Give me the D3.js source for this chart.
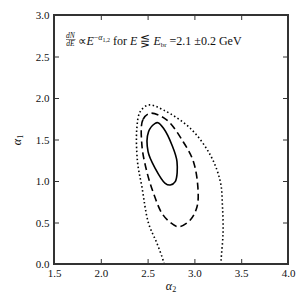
<!DOCTYPE html>
<html>
<head>
<meta charset="utf-8">
<script src="https://cdn.jsdelivr.net/npm/d3@7"></script>
<style>
  body { margin: 0; background: #fff; }
</style>
</head>
<body>
<div id="chart"></div>
<script>
// tick values
const xTicks = [1.5, 2.0, 2.5, 3.0, 3.5, 4.0];
const yTicks = [0.0, 0.5, 1.0, 1.5, 2.0, 2.5, 3.0];

// contours [alpha2, alpha1]
const oneSigma = [
  [2.581, 1.695], [2.510, 1.594], [2.505, 1.353], [2.581, 1.153],
  [2.688, 0.972], [2.742, 0.952], [2.795, 0.992], [2.814, 1.233],
  [2.760, 1.434], [2.670, 1.635], [2.610, 1.702]
];
const twoSigma = [
  [2.528, 1.816], [2.450, 1.740], [2.439, 1.434], [2.492, 1.112],
  [2.563, 0.852], [2.653, 0.611], [2.742, 0.500], [2.831, 0.449],
  [2.956, 0.530], [3.028, 0.690], [3.039, 0.892], [2.990, 1.233],
  [2.880, 1.473], [2.700, 1.740]
];
const threeSigma = [
  [2.682, -0.05], [2.670, 0.028], [2.600, 0.249], [2.510, 0.490],
  [2.439, 0.931], [2.392, 1.233], [2.385, 1.635], [2.421, 1.835],
  [2.510, 1.916], [2.670, 1.855], [2.956, 1.635], [3.170, 1.313],
  [3.277, 0.992], [3.300, 0.690], [3.306, 0.370], [3.285, 0.048],
  [3.282, -0.05]
];

const serif = "Liberation Serif";

const margin = { top: 15, right: 12, bottom: 36, left: 54 },
  width = 300 - margin.left - margin.right,
  height = 300 - margin.top - margin.bottom;

const svg = d3.select("#chart").append("svg")
  .attr("width", 300)
  .attr("height", 300)
  .attr("font-family", serif);

const g = svg.append("g")
  .attr("transform", "translate(" + margin.left + "," + margin.top + ")");

const x = d3.scaleLinear().domain([1.5, 4.0]).range([0, width]);
const y = d3.scaleLinear().domain([0, 3.0]).range([height, 0]);

svg.append("defs").append("clipPath").attr("id", "clip")
  .append("rect").attr("width", width).attr("height", height);

// contours
const closed = d3.line().x(d => x(d[0])).y(d => y(d[1])).curve(d3.curveCatmullRomClosed.alpha(0.5));
const open = d3.line().x(d => x(d[0])).y(d => y(d[1])).curve(d3.curveCatmullRom.alpha(0.5));

const plot = g.append("g").attr("clip-path", "url(#clip)");

plot.append("path").attr("d", closed(oneSigma))
  .attr("fill", "none").attr("stroke", "#000").attr("stroke-width", 1.6);
plot.append("path").attr("d", closed(twoSigma))
  .attr("fill", "none").attr("stroke", "#000").attr("stroke-width", 1.6)
  .attr("stroke-dasharray", "7,4");
plot.append("path").attr("d", open(threeSigma))
  .attr("fill", "none").attr("stroke", "#000").attr("stroke-width", 1.6)
  .attr("stroke-dasharray", "1.5,2.5");

// axes, ticks inward
const fmt = d3.format(".1f");
const xAxis = g.append("g").attr("transform", "translate(0," + height + ")")
  .call(d3.axisBottom(x).tickValues(xTicks).tickSize(-5).tickPadding(5).tickFormat(fmt));
const yAxis = g.append("g")
  .call(d3.axisLeft(y).tickValues(yTicks).tickSize(-5).tickPadding(4.5).tickFormat(fmt));
const xTop = g.append("g")
  .call(d3.axisTop(x).tickValues(xTicks).tickSize(-5).tickFormat(""));
const yRight = g.append("g").attr("transform", "translate(" + width + ",0)")
  .call(d3.axisRight(y).tickValues(yTicks).tickSize(-5).tickFormat(""));

[xAxis, yAxis, xTop, yRight].forEach(a => {
  a.attr("font-family", serif).attr("font-size", 11);
  a.select(".domain").remove();
  a.selectAll("line").attr("stroke", "#333");
  a.selectAll("text").attr("fill", "#111");
});

g.append("rect")
  .attr("width", width).attr("height", height)
  .attr("fill", "none").attr("stroke", "#333").attr("stroke-width", 2);

// axis labels
const ylab = svg.append("text")
  .attr("transform", "translate(21,140) rotate(-90)")
  .attr("text-anchor", "middle")
  .attr("font-size", 12).attr("fill", "#111");
ylab.append("tspan").attr("font-style", "italic").text("α");
ylab.append("tspan").attr("font-size", 8).attr("dy", 2).text("1");

const xlab = svg.append("text")
  .attr("x", 171).attr("y", 290)
  .attr("text-anchor", "middle")
  .attr("font-size", 12).attr("fill", "#111");
xlab.append("tspan").attr("font-style", "italic").text("α");
xlab.append("tspan").attr("font-size", 8).attr("dy", 2).text("2");

// annotation
const fx = 70.5;
svg.append("text").attr("x", fx).attr("y", 37.5).attr("text-anchor", "middle")
  .attr("font-size", 7.5).attr("font-style", "italic").attr("fill", "#111").text("dN");
svg.append("line").attr("x1", 66).attr("x2", 75.5).attr("y1", 39.5).attr("y2", 39.5)
  .attr("stroke", "#111").attr("stroke-width", 0.5);
svg.append("text").attr("x", fx).attr("y", 46).attr("text-anchor", "middle")
  .attr("font-size", 7.5).attr("font-style", "italic").attr("fill", "#111").text("dE");

const note = svg.append("text").attr("x", 77.5).attr("y", 45)
  .attr("font-size", 12).attr("fill", "#111");
note.append("tspan").text("∝");
note.append("tspan").attr("font-style", "italic").text("E");
note.append("tspan").attr("font-size", 8).attr("dy", -5).text("−");
note.append("tspan").attr("font-size", 8).attr("font-style", "italic").text("α");
note.append("tspan").attr("font-size", 6).attr("dy", 1.5).text("1,2");
note.append("tspan").attr("dy", 3.5).text("  for ");
note.append("tspan").attr("font-style", "italic").text("E");
note.append("tspan").text(" ⋚ ");
note.append("tspan").attr("font-style", "italic").text("E");
note.append("tspan").attr("font-size", 7).attr("dy", 1.5).text("br");
note.append("tspan").attr("dy", -1.5).text(" =2.1 ±0.2 GeV");
</script>
</body>
</html>
